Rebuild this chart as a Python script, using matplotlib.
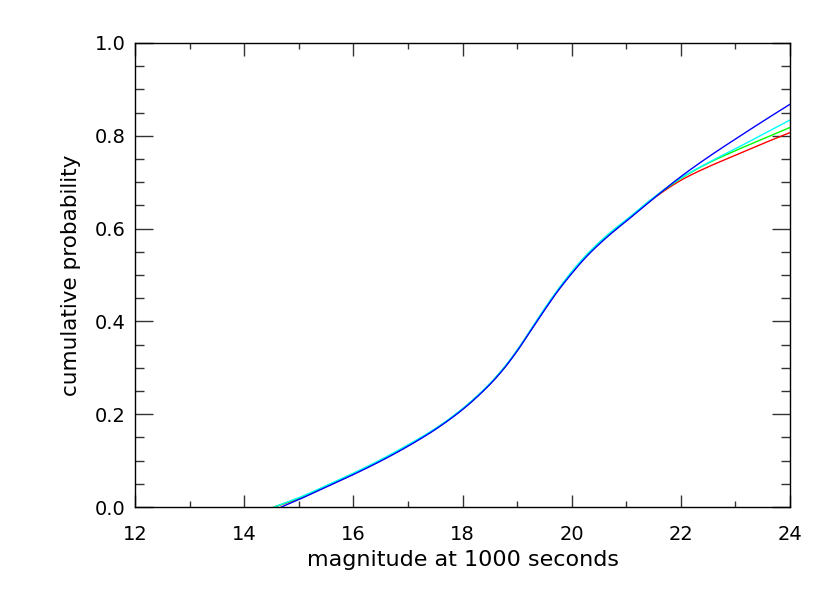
import numpy as np
import matplotlib
matplotlib.use("Agg")
import matplotlib.pyplot as plt
from matplotlib.ticker import MultipleLocator

# magnitude at 1000 s vs cumulative probability
mag = [15.0, 15.5, 16.0, 16.5, 17.0, 17.5, 18.0, 18.5, 18.75, 19.0, 19.25,
       19.5, 19.75, 20.0, 20.25, 20.5, 20.75, 21.0, 21.5, 22.0, 22.5, 23.0,
       23.5, 24.0]
blue = [0.016, 0.043, 0.070, 0.099, 0.131, 0.167, 0.210, 0.264, 0.297, 0.336,
        0.380, 0.424, 0.466, 0.503, 0.537, 0.566, 0.592, 0.616, 0.665, 0.712,
        0.754, 0.793, 0.831, 0.868]
cyan = [0.020, 0.046, 0.073, 0.102, 0.134, 0.169, 0.212, 0.266, 0.299, 0.338,
        0.382, 0.427, 0.469, 0.507, 0.541, 0.570, 0.596, 0.619, 0.667, 0.709,
        0.742, 0.772, 0.803, 0.834]
green = [0.019, 0.045, 0.072, 0.101, 0.133, 0.168, 0.211, 0.265, 0.298, 0.337,
         0.381, 0.426, 0.468, 0.506, 0.540, 0.569, 0.595, 0.618, 0.666, 0.708,
         0.741, 0.768, 0.793, 0.818]
red = [0.018, 0.044, 0.071, 0.100, 0.132, 0.168, 0.211, 0.265, 0.298, 0.337,
       0.381, 0.425, 0.467, 0.505, 0.539, 0.568, 0.594, 0.617, 0.665, 0.704,
       0.733, 0.758, 0.783, 0.807]
start_blue = 14.68   # where each curve leaves zero
start_other = 14.55


def smooth(x0, xs, ys):
    xs = np.asarray([x0] + list(xs))
    ys = np.asarray([0.0] + list(ys))
    xx = np.linspace(xs[0], xs[-1], 500)
    # monotone cubic (pchip-like) interpolation for a smooth line
    h = np.diff(xs)
    d = np.diff(ys) / h
    m = np.zeros_like(ys)
    m[0], m[-1] = d[0], d[-1]
    for i in range(1, len(xs) - 1):
        if d[i - 1] * d[i] > 0:
            w1 = 2 * h[i] + h[i - 1]
            w2 = h[i] + 2 * h[i - 1]
            m[i] = (w1 + w2) / (w1 / d[i - 1] + w2 / d[i])
    idx = np.clip(np.searchsorted(xs, xx) - 1, 0, len(xs) - 2)
    t = (xx - xs[idx]) / h[idx]
    h00 = 2 * t**3 - 3 * t**2 + 1
    h10 = t**3 - 2 * t**2 + t
    h01 = -2 * t**3 + 3 * t**2
    h11 = t**3 - t**2
    yy = (h00 * ys[idx] + h10 * h[idx] * m[idx] + h01 * ys[idx + 1]
          + h11 * h[idx] * m[idx + 1])
    return xx, yy


plt.rcParams['font.family'] = ['DejaVu Sans']
fig = plt.figure(figsize=(8.3, 5.93), dpi=100)
ax = fig.add_axes([0.1627, 0.145, 0.7891, 0.7825])

ax.plot(*smooth(start_other, mag, red), color='#ff0000', lw=1.0)
ax.plot(*smooth(start_other, mag, green), color='#00ff00', lw=1.0)
ax.plot(*smooth(start_other, mag, cyan), color='#00ffff', lw=1.0)
ax.plot(*smooth(start_blue, mag, blue), color='#0000ff', lw=1.0)

ax.set_xlim(12, 24)
ax.set_ylim(0, 1.0)
ax.xaxis.set_major_locator(MultipleLocator(2))
ax.xaxis.set_minor_locator(MultipleLocator(1))
ax.yaxis.set_major_locator(MultipleLocator(0.2))
ax.yaxis.set_minor_locator(MultipleLocator(0.05))
ax.xaxis.set_major_formatter(plt.FuncFormatter(lambda v, p: f"{v:.0f}"))
ax.yaxis.set_major_formatter(plt.FuncFormatter(lambda v, p: f"{v:.1f}"))

ax.tick_params(axis='both', which='both', direction='in', top=True, right=True,
               labelsize=14, width=1.0, color='#333333')
ax.tick_params(axis='x', which='major', length=9, pad=13)
ax.tick_params(axis='x', which='minor', length=4.5)
ax.tick_params(axis='y', which='major', length=13, pad=7)
ax.tick_params(axis='y', which='minor', length=6.5)
for s in ax.spines.values():
    s.set_linewidth(1.0)

ax.set_xlabel('magnitude at 1000 seconds', fontsize=16, labelpad=4)
ax.set_ylabel('cumulative probability', fontsize=15.5, labelpad=10)

fig.savefig('out.png', dpi=100)
